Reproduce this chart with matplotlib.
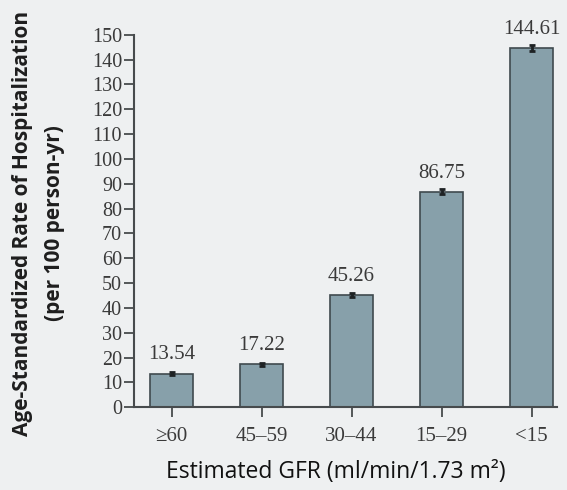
import matplotlib.pyplot as plt

# data
groups = ["\u226560", "45\u201359", "30\u201344", "15\u201329", "<15"]
rates = [13.54, 17.22, 45.26, 86.75, 144.61]
errors = [0.5, 0.5, 0.7, 1.0, 1.2]

bg = "#eef0f1"
fig = plt.figure(figsize=(5.67, 4.9), dpi=100, facecolor=bg)
ax = fig.add_axes([0.236, 0.169, 0.746, 0.76])
ax.set_facecolor(bg)

x = range(len(groups))
ax.bar(x, rates, width=0.48, color="#87a0aa", edgecolor="#3f4a4e", linewidth=1.2,
       yerr=errors, error_kw=dict(ecolor="#1e2224", elinewidth=2.0, capsize=2, capthick=2.0))

for i, v in enumerate(rates):
    ax.text(i, v + 7.5, f"{v:.2f}", ha="center", va="center", fontsize=15,
            family="Liberation Serif", color="#3a3a3a")

ax.set_xlim(-0.42, 4.28)
ax.set_ylim(0, 150)
ax.set_yticks(range(0, 151, 10))
ax.set_xticks(list(x))
ax.set_xticklabels(groups, family="Liberation Serif", fontsize=15, color="#3a3a3a")
for lab in ax.get_yticklabels():
    lab.set_family("Liberation Serif")
    lab.set_fontsize(14.5)
    lab.set_color("#3a3a3a")

ax.spines["top"].set_visible(False)
ax.spines["right"].set_visible(False)
for s in ["left", "bottom"]:
    ax.spines[s].set_color("#474b4d")
    ax.spines[s].set_linewidth(1.5)
ax.tick_params(axis="y", direction="out", length=7.5, width=1.3, color="#474b4d", pad=1)
ax.tick_params(axis="x", direction="out", length=7.5, width=1.3, color="#474b4d", pad=7)

fig.text(0.593, 0.037, "Estimated GFR (ml/min/1.73 m\u00b2)", ha="center", va="center",
         fontsize=16.5, family="Open Sans", color="#111111")
fig.text(0.040, 0.545, "Age-Standardized Rate of Hospitalization", rotation=90,
         ha="center", va="center", fontsize=15, family="Open Sans", weight="bold", color="#1e1e1e")
fig.text(0.096, 0.545, "(per 100 person-yr)", rotation=90,
         ha="center", va="center", fontsize=15, family="Open Sans", weight="bold", color="#1e1e1e")

fig.savefig("out.png", dpi=100, facecolor=fig.get_facecolor())
